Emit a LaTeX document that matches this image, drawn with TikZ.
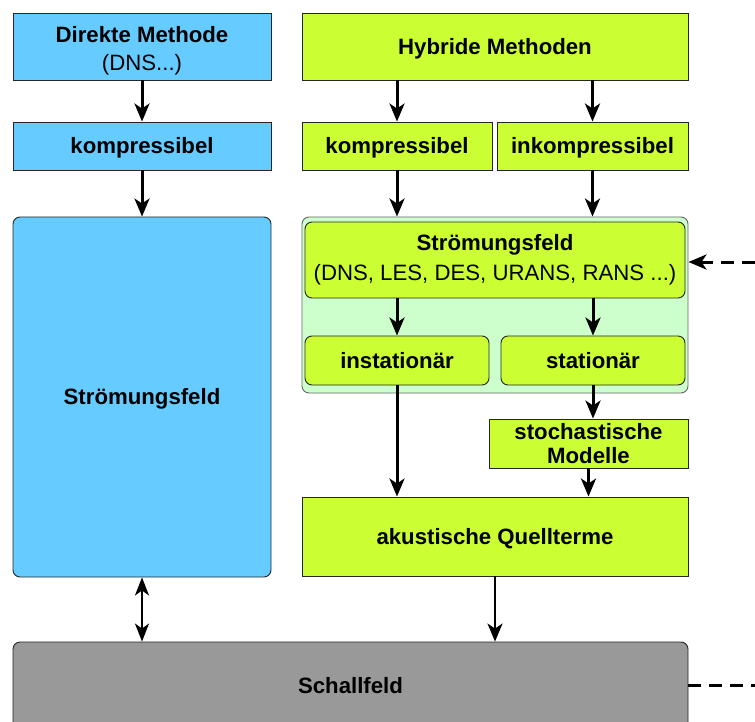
\documentclass[tikz,border=0pt]{standalone}
\usepackage{fontspec}
\setmainfont{Liberation Sans}
\definecolor{skyblue}{HTML}{66CCFF}
\definecolor{lime}{HTML}{CCFF33}
\definecolor{palegreen}{HTML}{CCFFCC}
\definecolor{greybox}{HTML}{999999}
\usetikzlibrary{arrows.meta,positioning}
\tikzstyle{box}=[draw=black!85,line width=0.9pt,inner sep=2pt,align=center,
  font=\fontsize{22.2}{30}\selectfont\bfseries]
\tikzstyle{oneline}=[text height=17pt,text depth=1.5pt]
\tikzstyle{bluebox}=[box,fill=skyblue]
\tikzstyle{limebox}=[box,fill=lime]
\tikzstyle{roundbox}=[limebox,rounded corners=7pt]
\tikzstyle{flow}=[-{Stealth[length=18pt,width=15pt,inset=5pt]}, line width=3pt]
\tikzstyle{thinflow}=[flow, line width=2.2pt]
\tikzstyle{feedback}=[flow, dash pattern=on 13pt off 8pt]

\begin{document}
\begin{tikzpicture}[x=1pt,y=-1pt]
  \clip (0,0) rectangle (755,722);

  % linke Spalte
  \node[bluebox, minimum width=258, minimum height=67] (dm) at (142,46.5)
    {\rule{0pt}{24pt}Direkte Methode\\[-2pt]{\mdseries (DNS...)}};
  \node[bluebox, oneline, minimum width=258, minimum height=48] (k1) at (142,146) {kompressibel};
  \node[bluebox, oneline, rounded corners=7pt, minimum width=258, minimum height=360] (sf1)
    at (142,397) {Strömungsfeld};

  % rechte Spalte
  \node[limebox, oneline, minimum width=386, minimum height=67] (hm) at (495,46.5) {Hybride Methoden};
  \node[limebox, oneline, minimum width=190, minimum height=48] (k2) at (397,146) {kompressibel};
  \node[limebox, oneline, minimum width=191, minimum height=48] (ik) at (592.5,146) {inkompressibel};

  \node[box, fill=palegreen, rounded corners=7pt, minimum width=386, minimum height=176,
    draw=black!60] (cont) at (495,305) {};
  \node[roundbox, minimum width=380, minimum height=76] (sf2) at (495,260)
    {Strömungsfeld\\{\mdseries (DNS, LES, DES, URANS, RANS ...)}};
  \node[roundbox, oneline, minimum width=184, minimum height=49] (inst) at (397,360.5) {instationär};
  \node[roundbox, oneline, minimum width=184, minimum height=49] (stat) at (593,360.5) {stationär};

  \node[limebox, minimum width=199, minimum height=49] (stoch) at (588.5,443.5)
    {stochastische\\[-6pt]Modelle};
  \node[limebox, oneline, minimum width=386, minimum height=79] (aq) at (495,536.5)
    {akustische Quellterme};

  \node[box, fill=greybox, rounded corners=7pt, minimum width=675, minimum height=88]
    (sch) at (350.5,686) {Schallfeld};

  \coordinate (in) at (755,262);
  \coordinate (out) at (755,685);

  % Pfeile
  \draw[flow] (dm) -- (k1);
  \draw[flow] (k1) -- (sf1);
  \draw[flow] (hm.south -| k2) -- (k2);
  \draw[flow] (hm.south -| ik) -- (ik);
  \draw[flow] (k2) -- (k2 |- cont.north);
  \draw[flow] (ik) -- (ik |- cont.north);
  \draw[flow] (sf2.south -| inst) -- (inst);
  \draw[flow] (sf2.south -| stat) -- (stat);
  \draw[flow] (inst) -- (inst |- aq.north);
  \draw[flow] (stat) -- (stat |- stoch.north);
  \draw[flow] (stoch) -- (stoch.south |- aq.north);
  \draw[thinflow] (aq) -- (aq |- sch.north);
  \draw[thinflow, {Stealth[length=18pt,width=14pt,inset=5pt]}-{Stealth[length=18pt,width=14pt,inset=5pt]}]
    (sf1) -- (sf1 |- sch.north);
  \draw[feedback] (in) -- (in -| cont.east);
  \draw[line width=3pt, dash pattern=on 13pt off 8pt] (sch.east |- out) -- (out);
\end{tikzpicture}
\end{document}
